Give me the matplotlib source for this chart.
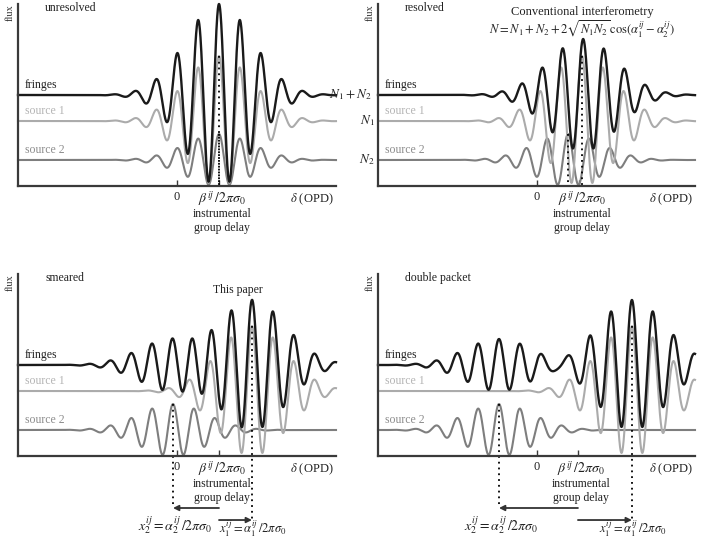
import numpy as np
import matplotlib
matplotlib.use('Agg')
import matplotlib.pyplot as plt

plt.rcParams['font.family'] = ['Liberation Serif', 'DejaVu Serif']
plt.rcParams['mathtext.fontset'] = 'stix'

# --- values (x in units of one fringe period) ---
panel_names = ['unresolved', 'resolved', 'smeared', 'double packet']
N1, N2 = 1.0, 0.4            # source flux levels
ENV_WIDTH = 1.6              # gaussian width of the coherence envelope
beta = [2.0, 2.0, 2.0, 1.95]           # instrumental group delay
pos1 = [2.0, 2.14, 3.57, 4.52]         # source 1 packet centre
pos2 = [2.0, 1.48, -0.19, -1.81]       # source 2 packet centre
show_arrows = [False, False, True, True]

W, H = 705, 540
PX = 21.0     # pixels per fringe period
PY = 65.0     # pixels per flux unit
# axes frames in pixels: left spine x, x of zero, right end, bottom y
frames = [(18, 177, 336, 186), (378, 537, 695, 186),
          (18, 177, 336, 456), (378, 537, 695, 456)]

C_FR, C_S1, C_S2 = '#1a1a1a', '#ababab', '#7e7e7e'
C_AX = '#3a3a3a'
FS = 8.5


def packet(x, level, centre):
    env = np.exp(-(x - centre) ** 2 / (2 * ENV_WIDTH ** 2))
    return level * env * np.cos(2 * np.pi * (x - centre))


fig = plt.figure(figsize=(W / 100, H / 100), dpi=100)

for k, (x0, xz, x1, yb) in enumerate(frames):
    ytop = yb - 182
    ax = fig.add_axes([x0 / W, 1 - yb / H, (x1 - x0) / W, (yb - ytop) / H])
    xlo, xhi = (x0 - xz) / PX, (x1 - xz) / PX
    ax.set_xlim(xlo, xhi)
    ax.set_ylim(0, 182 / PY)
    for s in ['top', 'right']:
        ax.spines[s].set_visible(False)
    for s in ['left', 'bottom']:
        ax.spines[s].set_color(C_AX)
        ax.spines[s].set_linewidth(1.6)
    ax.set_xticks([0, beta[k]])
    ax.set_xticklabels([])
    ax.set_yticks([])
    ax.tick_params(axis='x', direction='in', length=4, width=1, color=C_AX)

    x = np.linspace(xlo, xhi, 3000)
    m1 = packet(x, N1, pos1[k])
    m2 = packet(x, N2, pos2[k])
    ax.plot(x, N2 + m2, color=C_S2, lw=1.5, clip_on=False)
    ax.plot(x, N1 + m1, color=C_S1, lw=1.5, clip_on=False)
    ax.plot(x, N1 + N2 + m1 + m2, color=C_FR, lw=1.7, clip_on=False)

    # dotted markers from the packet peaks
    if show_arrows[k]:
        y1_end, y2_end = -0.985, -0.8
    else:
        y1_end, y2_end = 0, 0
    ax.plot([pos2[k], pos2[k]], [2 * N2, y2_end], color='k', lw=1.3,
            ls=(0, (1, 2.2)), clip_on=False)
    ax.plot([pos1[k], pos1[k]], [2 * N1, y1_end], color='k', lw=1.3,
            ls=(0, (1, 2.2)), clip_on=False)

    # panel texts
    ax.text((x0 - 8 - xz) / PX, 2.66, 'flux', rotation=90, ha='center',
            va='center', fontsize=7.5, color='#333')
    ax.text(xlo + 27 / PX, 2.74, panel_names[k], ha='left', va='center',
            fontsize=FS, color='#222')
    ax.text(xlo + 7 / PX, N1 + N2 + 0.15, 'fringes', ha='left',
            va='center', fontsize=FS, color='#222')
    ax.text(xlo + 7 / PX, N1 + 0.15, 'source 1', ha='left', va='center',
            fontsize=FS, color='#b4b4b4')
    ax.text(xlo + 7 / PX, N2 + 0.15, 'source 2', ha='left', va='center',
            fontsize=FS, color='#8c8c8c')

    ax.text(0, -0.17, '0', ha='center', va='center', fontsize=FS + 0.5,
            color='#222')
    ax.text(beta[k] + 0.15, -0.21, r'$\beta^{ij}\,/2\pi\sigma_0$',
            ha='center', va='center', fontsize=FS + 1.5, color='#222')
    ax.text(beta[k] + 0.15, -0.43, 'instrumental', ha='center',
            va='center', fontsize=FS, color='#222')
    ax.text(beta[k] + 0.15, -0.64, 'group delay', ha='center',
            va='center', fontsize=FS, color='#222')
    ax.text(xhi - 1.15, -0.21, r'$\delta$ (OPD)', ha='center',
            va='center', fontsize=FS + 0.5, color='#222')

    if show_arrows[k]:
        ax.annotate('', xy=(pos2[k], -0.8), xytext=(beta[k], -0.8),
                    arrowprops=dict(arrowstyle='-|>', color='#333', lw=1.3,
                                    mutation_scale=8, shrinkA=0, shrinkB=0),
                    annotation_clip=False)
        ax.annotate('', xy=(pos1[k], -0.985), xytext=(beta[k], -0.985),
                    arrowprops=dict(arrowstyle='-|>', color='#333', lw=1.3,
                                    mutation_scale=8, shrinkA=0, shrinkB=0),
                    annotation_clip=False)
        ax.text(pos2[k] + 0.1, -1.07,
                r'$x_2^{ij}=\alpha_2^{ij}\,/2\pi\sigma_0$',
                ha='center', va='center', fontsize=FS + 1.5, color='#222')
        ax.text(pos1[k] + 0.05, -1.12,
                r'$x_1^{ij}=\alpha_1^{ij}\,/2\pi\sigma_0$',
                ha='center', va='center', fontsize=FS + 0.5, color='#222')

    if k == 1:
        ax.text(xlo - 6 / PX, N1 + N2, r'$N_1+N_2$', ha='right',
                va='center', fontsize=FS + 1, color='#222')
        ax.text(xlo - 3 / PX, N1, r'$N_1$', ha='right', va='center',
                fontsize=FS + 1, color='#222')
        ax.text(xlo - 3 / PX, N2, r'$N_2$', ha='right', va='center',
                fontsize=FS + 1, color='#222')
        ax.text(2.14, 2.67, 'Conventional interferometry', ha='center',
                va='center', fontsize=FS + 0.5, color='#222')
        ax.text(2.14, 2.42,
                r'$N=N_1+N_2+2\sqrt{N_1N_2}\,\cos(\alpha_1^{ij}-\alpha_2^{ij})$',
                ha='center', va='center', fontsize=FS + 0.5, color='#222')
    if k == 2:
        ax.text(2.9, 2.55, 'This paper', ha='center', va='center',
                fontsize=FS, color='#222')

fig.savefig('out.png', dpi=100)
